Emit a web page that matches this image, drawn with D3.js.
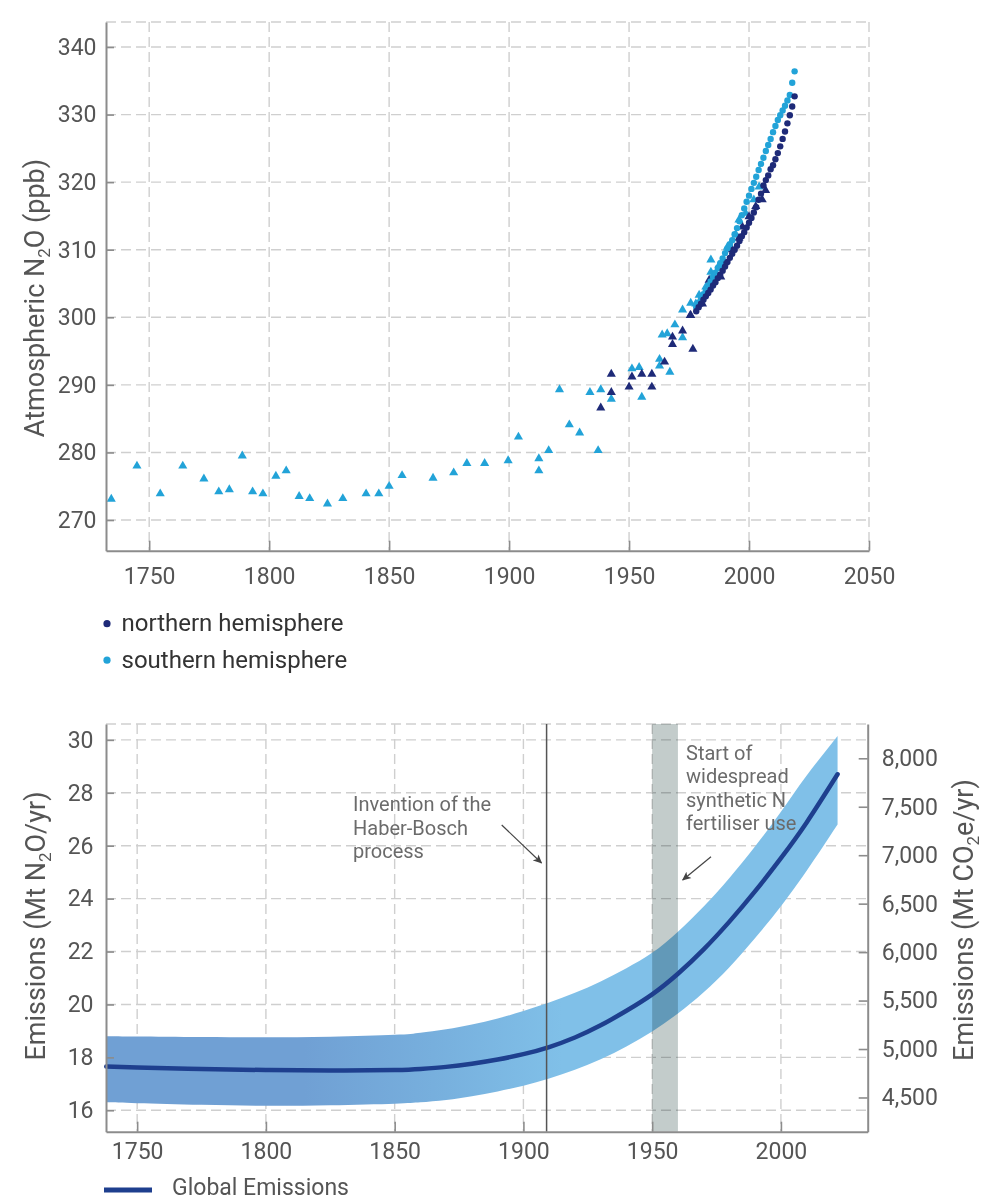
<!DOCTYPE html>
<html><head><meta charset="utf-8">
<script src="https://cdn.jsdelivr.net/npm/d3@7"></script>
<style>
body{margin:0;background:#fff;}
svg{display:block;font-family:Roboto,"Open Sans",sans-serif;}
</style></head><body>
<svg id="chart" width="983" height="1201"></svg>
<script>
// ---------------- DATA ----------------
// Top chart: atmospheric N2O (ppb)
const southTriYears  = [1734.2,1744.9,1754.6,1764,1772.8,1779,1783.4,1788.8,1793.1,1797.4,1802.8,1807.1,1812.5,1816.9,1824.3,1830.7,1840.4,1845.7,1850,1855.4,1868.3,1876.9,1882.4,1889.8,1899.6,1903.9,1912.4,1912.4,1916.5,1921,1925.1,1929.4,1933.7,1937.1,1938.2,1942.6,1951.2,1954.2,1955.3,1962.7,1962.7,1967,1963.8,1965.9,1969.1,1972.3,1972.3,1975.7,1977.8,1979.2,1982,1984.1,1984.1,1987.5,1991,1994.5,1995.8,1998.6,2002,2004.2];
const southTriValues = [273.1,278.0,273.9,278.0,276.1,274.2,274.5,279.5,274.2,273.9,276.5,277.3,273.5,273.2,272.4,273.2,273.9,273.9,275.0,276.6,276.2,277.0,278.4,278.4,278.8,282.3,279.1,277.3,280.3,289.3,284.1,282.9,288.9,280.3,289.3,287.9,292.4,292.6,288.2,292.8,293.8,291.9,297.4,297.6,298.9,297.0,301.1,302.1,302.0,303.3,304.5,308.5,306.7,307.7,310.4,312.2,314.4,315.4,317.4,319.3];
const northTriYears  = [1938.2,1942.6,1942.6,1950,1951.2,1955.3,1959.5,1959.5,1964.8,1968.1,1968.1,1972.3,1976.6,1975.5,1975.7,1979.9,1980.6,1983.4,1988.2,1989.6,1993,1995.8,1997.2,2000,2002.8,2005.5,2006.9];
const northTriValues = [286.6,291.6,288.9,289.7,291.2,291.6,291.6,289.7,293.4,297.1,296.0,298.0,295.3,300.3,300.3,302.1,302.0,305.5,306.0,308.0,310.0,311.7,313.4,314.9,316.4,317.4,318.8];
const dotYears       = [1978,1979,1980,1981,1982,1983,1984,1985,1986,1987,1988,1989,1990,1991,1992,1993,1994,1995,1996,1997,1998,1999,2000,2001,2002,2003,2004,2005,2006,2007,2008,2009,2010,2011,2012,2013,2014,2015,2016,2017,2018,2019];
const southDotValues = [301.5,302.2,302.8,303.4,304.0,304.7,305.3,306.0,306.6,307.3,308.0,308.7,309.5,310.2,310.8,311.4,312.3,313.2,314.2,315.1,316.1,317.1,318.0,319.0,319.9,320.8,321.8,322.7,323.6,324.6,325.5,326.4,327.4,328.3,329.2,329.9,330.6,331.3,332.1,332.9,334.7,336.4];
const northDotValues = [300.9,301.5,302.0,302.6,303.1,303.6,304.1,304.7,305.2,305.8,306.3,306.9,307.5,308.2,308.8,309.4,310.0,310.6,311.3,312.0,312.6,313.3,314.0,314.7,315.5,316.3,317.4,318.3,319.5,320.3,321.0,321.9,322.5,323.4,324.3,325.3,326.4,327.5,328.7,329.9,331.2,332.7];
const topXTicks = [1750,1800,1850,1900,1950,2000,2050];
const topYTicks = [270,280,290,300,310,320,330,340];
const topLegend = ["northern hemisphere","southern hemisphere"];

// Bottom chart: global N2O emissions (Mt N2O/yr)
const emissionYears = [1738,1750,1775,1800,1825,1850,1860,1870,1880,1890,1900,1910,1920,1930,1940,1950,1960,1970,1980,1990,2000,2010,2022];
const emissionMid   = [17.65,17.62,17.56,17.52,17.5,17.52,17.56,17.64,17.76,17.92,18.12,18.39,18.75,19.21,19.76,20.38,21.16,22.08,23.13,24.28,25.53,26.88,28.7];
const emissionUpper = [18.8,18.79,18.77,18.76,18.78,18.85,18.93,19.06,19.24,19.47,19.75,20.07,20.44,20.87,21.37,21.95,22.75,23.7,24.78,25.98,27.28,28.65,30.15];
const emissionLower = [16.3,16.27,16.21,16.17,16.19,16.25,16.3,16.39,16.53,16.71,16.93,17.2,17.53,17.93,18.41,18.98,19.66,20.46,21.41,22.51,23.71,25.05,26.8];
const botXTicks  = [1750,1800,1850,1900,1950,2000];
const botYTicks  = [16,18,20,22,24,26,28,30];
const rightTicks = [4500,5000,5500,6000,6500,7000,7500,8000];
const gwpN2O = 273;
const haberYear = 1909;
const fertiliserSpan = [1950,1960];
const haberText = ["Invention of the","Haber-Bosch","process"];
const fertText  = ["Start of","widespread","synthetic N","fertiliser use"];

// ---------------- STYLE ----------------
const cLight = "#22a3d8", cDark = "#1e2a78", cLine = "#1e3f8e";
const gridC = "#cfcfcf", axisC = "#8c8c8c", tickTxt = "#555";

const svg = d3.select("#chart");
const defs = svg.append("defs");
defs.append("marker").attr("id","arrow").attr("viewBox","0 0 10 10")
  .attr("refX",9).attr("refY",5).attr("markerWidth",9).attr("markerHeight",9)
  .attr("markerUnits","userSpaceOnUse").attr("orient","auto")
  .append("path").attr("d","M0,0.5 L10,5 L0,9.5 L2.5,5 z").attr("fill","#444");

function styleAxis(g, fs){
  g.attr("font-family",null).attr("font-size",null);
  g.select(".domain").attr("stroke",axisC).attr("stroke-width",2);
  g.selectAll(".tick line").attr("stroke",axisC).attr("stroke-width",1.6);
  g.selectAll(".tick text").attr("fill",tickTxt).style("font-size",fs+"px");
}
function grid(g, xs, ys, x0, x1, y0, y1){
  g.selectAll(null).data(xs).join("line")
    .attr("x1",d=>d).attr("x2",d=>d).attr("y1",y0).attr("y2",y1);
  g.selectAll(null).data(ys).join("line")
    .attr("x1",x0).attr("x2",x1).attr("y1",d=>d).attr("y2",d=>d);
  g.attr("stroke",gridC).attr("stroke-width",1.4).attr("stroke-dasharray","10,5");
}
function rotTitle(x, y, parts){
  const t = svg.append("text").attr("transform",`translate(${x},${y}) rotate(-90)`)
    .attr("text-anchor","middle").attr("fill","#555").style("font-size","27px");
  parts.forEach(p=>{
    const ts = t.append("tspan").text(p.t);
    if(p.sub){ ts.style("font-size","17px").attr("dy",6); }
    else if(p.after){ ts.attr("dy",-6); }
  });
}

// ---------------- TOP CHART ----------------
const xTop = d3.scaleLinear().domain([1732,2050]).range([106,869]);
const yTop = d3.scaleLinear().domain([265.46,343.7]).range([550.7,22]);
const gGridTop = svg.append("g");
grid(gGridTop, topXTicks.map(xTop), topYTicks.map(yTop).concat([yTop.range()[1]]), 106, 869, 22, 550.7);

const sym = d3.symbol().type(d3.symbolTriangle).size(36);
const gPts = svg.append("g");
gPts.selectAll(".st").data(d3.zip(southTriYears,southTriValues)).join("path")
  .attr("d",sym).attr("transform",d=>`translate(${xTop(d[0])},${yTop(d[1])})`).attr("fill",cLight);
gPts.selectAll(".nt").data(d3.zip(northTriYears,northTriValues)).join("path")
  .attr("d",sym).attr("transform",d=>`translate(${xTop(d[0])},${yTop(d[1])})`).attr("fill",cDark);
gPts.selectAll(".sd").data(d3.zip(dotYears,southDotValues)).join("circle")
  .attr("cx",d=>xTop(d[0])).attr("cy",d=>yTop(d[1])).attr("r",3.2).attr("fill",cLight);
gPts.selectAll(".nd").data(d3.zip(dotYears,northDotValues)).join("circle")
  .attr("cx",d=>xTop(d[0])).attr("cy",d=>yTop(d[1])).attr("r",3.2).attr("fill",cDark);

const axXTop = svg.append("g").attr("transform","translate(0,550.7)")
  .call(d3.axisBottom(xTop).tickValues(topXTicks).tickSizeInner(-10).tickSizeOuter(0).tickPadding(17).tickFormat(d3.format("d")));
styleAxis(axXTop,23);
const axYTop = svg.append("g").attr("transform","translate(106,0)")
  .call(d3.axisLeft(yTop).tickValues(topYTicks).tickSizeInner(-8).tickSizeOuter(0).tickPadding(9.5));
styleAxis(axYTop,23);
rotTitle(44, 298, [{t:"Atmospheric N"},{t:"2",sub:true},{t:"O (ppb)",after:true}]);

const leg = svg.append("g");
leg.selectAll("circle").data(topLegend).join("circle")
  .attr("cx",107).attr("cy",(d,i)=>623.7+i*36.5).attr("r",3.6).attr("fill",(d,i)=>i?cLight:cDark);
leg.selectAll("text").data(topLegend).join("text")
  .attr("x",121.5).attr("y",(d,i)=>631+i*37.3).text(d=>d).attr("fill","#333").style("font-size","24px");

// ---------------- BOTTOM CHART ----------------
const xBot = d3.scaleLinear().domain([1737.9,2033.7]).range([106,867.7]);
const yBot = d3.scaleLinear().domain([15.19,30.6]).range([1131.7,724]);
const yRight = d3.scaleLinear().domain(yBot.domain().map(v=>v*gwpN2O)).range([1131.7,724]);
const gGridBot = svg.append("g");
grid(gGridBot, botXTicks.map(xBot), botYTicks.map(yBot).concat([724]), 106, 867.7, 724, 1131.7);

const grad = defs.append("linearGradient").attr("id","bandGrad")
  .attr("gradientUnits","userSpaceOnUse").attr("x1",xBot(1815)).attr("x2",xBot(1915)).attr("y1",0).attr("y2",0);
grad.append("stop").attr("offset",0).attr("stop-color","#70a0d4");
grad.append("stop").attr("offset",0.5).attr("stop-color","#77afdd");
grad.append("stop").attr("offset",1).attr("stop-color","#80c0e8");

const em = emissionYears.map((y,i)=>({year:y,mid:emissionMid[i],hi:emissionUpper[i],lo:emissionLower[i]}));
svg.append("path").datum(em)
  .attr("d",d3.area().x(d=>xBot(d.year)).y0(d=>yBot(d.lo)).y1(d=>yBot(d.hi)).curve(d3.curveNatural))
  .attr("fill","url(#bandGrad)");
svg.append("rect").attr("x",xBot(fertiliserSpan[0])).attr("width",xBot(fertiliserSpan[1])-xBot(fertiliserSpan[0]))
  .attr("y",724).attr("height",1131.7-724).attr("fill","#c3cccb").style("mix-blend-mode","multiply");
svg.append("path").datum(em)
  .attr("d",d3.line().x(d=>xBot(d.year)).y(d=>yBot(d.mid)).curve(d3.curveNatural))
  .attr("fill","none").attr("stroke",cLine).attr("stroke-width",4.5).attr("stroke-linecap","round");
svg.append("line").attr("x1",xBot(haberYear)).attr("x2",xBot(haberYear)).attr("y1",724).attr("y2",1131.7)
  .attr("stroke","#555").attr("stroke-width",1.5);

const axXBot = svg.append("g").attr("transform","translate(0,1131.7)")
  .call(d3.axisBottom(xBot).tickValues(botXTicks).tickSizeInner(-10).tickSizeOuter(0).tickPadding(11).tickFormat(d3.format("d")));
styleAxis(axXBot,23);
const axYBot = svg.append("g").attr("transform","translate(106,0)")
  .call(d3.axisLeft(yBot).tickValues(botYTicks).tickSizeInner(-8).tickSizeOuter(0).tickPadding(12.5));
styleAxis(axYBot,23);
const axR = svg.append("g").attr("transform","translate(867.7,0)")
  .call(d3.axisRight(yRight).tickValues(rightTicks).tickSizeInner(-9).tickSizeOuter(0).tickPadding(14).tickFormat(d3.format(",")));
styleAxis(axR,23);

rotTitle(45, 926, [{t:"Emissions (Mt N"},{t:"2",sub:true},{t:"O/yr)",after:true}]);
rotTitle(973, 920, [{t:"Emissions (Mt CO"},{t:"2",sub:true},{t:"e/yr)",after:true}]);

// annotations
const ann = svg.append("g").attr("fill","#6b6b6b").style("font-size","20px");
ann.selectAll(".h").data(haberText).join("text").attr("x",353).attr("y",(d,i)=>811+i*23.5).text(d=>d);
ann.selectAll(".f").data(fertText).join("text").attr("x",686).attr("y",(d,i)=>759.5+i*23.5).text(d=>d);
svg.append("line").attr("x1",501.7).attr("y1",825).attr("x2",541.5).attr("y2",863)
  .attr("stroke","#444").attr("stroke-width",1.2).attr("marker-end","url(#arrow)");
svg.append("line").attr("x1",711).attr("y1",856.7).attr("x2",682.7).attr("y2",880)
  .attr("stroke","#444").attr("stroke-width",1.2).attr("marker-end","url(#arrow)");

// legend bottom
svg.append("line").attr("x1",104).attr("x2",152).attr("y1",1190).attr("y2",1190)
  .attr("stroke",cLine).attr("stroke-width",5);
svg.append("text").attr("x",172).attr("y",1195).text("Global Emissions").attr("fill","#555").style("font-size","23px");
</script>
</body></html>
